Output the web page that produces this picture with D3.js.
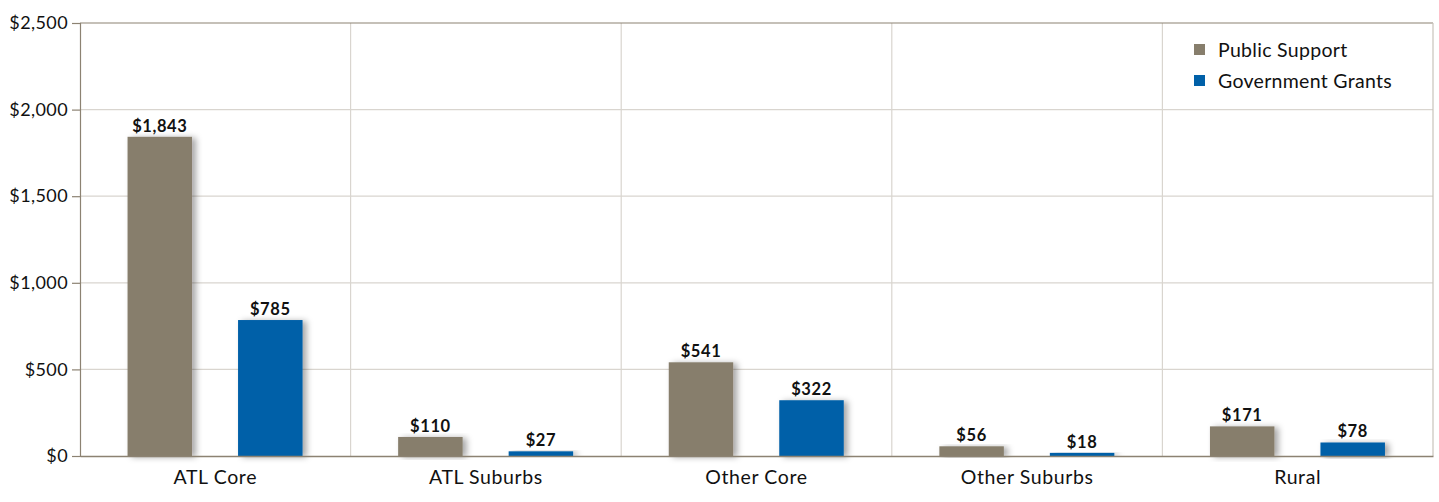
<!DOCTYPE html>
<html><head><meta charset="utf-8">
<script src="https://cdn.jsdelivr.net/npm/d3@7"></script>
<style>
html,body{margin:0;padding:0;background:#fff;}
svg{display:block;font-family:Lato,"Open Sans",sans-serif;}
</style></head>
<body><svg id="c" width="1439" height="502"></svg>
<script>
const categories = ["ATL Core","ATL Suburbs","Other Core","Other Suburbs","Rural"];
const seriesNames = ["Public Support","Government Grants"];
const publicSupport = [1843,110,541,56,171];
const governmentGrants = [785,27,322,18,78];
const yTicks = [0,500,1000,1500,2000,2500];
const colors = ["#877e6c","#0060a8"];

const svg = d3.select("#c");
const m = {l:80, r:6, t:23, b:46};
const W = 1439, H = 502;
const x = d3.scaleBand().domain(categories).range([m.l, W-m.r]);
const y = d3.scaleLinear().domain([0,2500]).range([H-m.b, m.t]);
const offs = d3.scalePoint().domain(seriesNames).range([-55.5,55]);
const bw = 64.5;

const defs = svg.append("defs");
const f = defs.append("filter").attr("id","sh").attr("x","-20%").attr("y","-20%").attr("width","160%").attr("height","140%");
f.append("feDropShadow").attr("dx",4).attr("dy",1).attr("stdDeviation",3).attr("flood-color","#000").attr("flood-opacity",0.35);

// horizontal gridlines
svg.append("g").selectAll("line").data(yTicks.slice(1,-1)).join("line")
  .attr("x1",m.l).attr("x2",W-m.r).attr("y1",d=>y(d)).attr("y2",d=>y(d))
  .attr("stroke","#d9d5cf").attr("stroke-width",1.2);
// vertical separators
svg.append("g").selectAll("line").data(categories.slice(1)).join("line")
  .attr("x1",d=>x(d)).attr("x2",d=>x(d)).attr("y1",m.t).attr("y2",H-m.b)
  .attr("stroke","#d9d5cf").attr("stroke-width",1.2);
// frame top & right
svg.append("line").attr("x1",m.l).attr("x2",W-m.r).attr("y1",m.t).attr("y2",m.t).attr("stroke","#8c8272").attr("stroke-width",1.2);
svg.append("line").attr("x1",W-m.r).attr("x2",W-m.r).attr("y1",m.t).attr("y2",H-m.b).attr("stroke","#c8c3bb").attr("stroke-width",1.2);

// bars
const data = [];
categories.forEach((c,i)=>{
  data.push({c, s:seriesNames[0], v:publicSupport[i], col:colors[0]});
  data.push({c, s:seriesNames[1], v:governmentGrants[i], col:colors[1]});
});
svg.append("g").selectAll("rect").data(data).join("rect")
  .attr("x",d=>x(d.c)+x.bandwidth()/2+offs(d.s)-bw/2)
  .attr("width",bw)
  .attr("y",d=>y(d.v)).attr("height",d=>y(0)-y(d.v))
  .attr("fill",d=>d.col).attr("filter","url(#sh)");

// value labels
svg.append("g").selectAll("text").data(data).join("text")
  .attr("x",d=>x(d.c)+x.bandwidth()/2+offs(d.s))
  .attr("y",d=>y(d.v)-5)
  .attr("text-anchor","middle").attr("font-weight","bold").attr("font-size",16.5)
  .attr("fill","#111").attr("letter-spacing","0.6")
  .text(d=>"$"+d3.format(",")(d.v));

// y axis
const ya = svg.append("g").attr("transform",`translate(${m.l},0)`)
  .call(d3.axisLeft(y).tickValues(yTicks).tickFormat(d=>"$"+d3.format(",")(d)).tickSize(8).tickPadding(4));
ya.select(".domain").attr("stroke","#8c8272").attr("stroke-width",1.2);
ya.selectAll(".tick line").attr("stroke","#8c8272").attr("stroke-width",1.2);
ya.selectAll("text").attr("font-size",18).attr("fill","#111").attr("font-family","Lato,sans-serif").attr("letter-spacing","0.4");

// x axis
const xa = svg.append("g").attr("transform",`translate(0,${H-m.b})`)
  .call(d3.axisBottom(x).tickSize(0).tickPadding(14));
xa.select(".domain").attr("stroke","#8c8272").attr("stroke-width",1.5);
xa.selectAll("text").attr("font-size",19.5).attr("fill","#111").attr("font-family","Lato,sans-serif").attr("letter-spacing","0.6");

// legend
const lg = svg.append("g").attr("transform","translate(1194,44)");
seriesNames.forEach((s,i)=>{
  const g = lg.append("g").attr("transform",`translate(0,${i*31})`);
  g.append("rect").attr("width",11).attr("height",11).attr("y",0).attr("fill",colors[i]);
  g.append("text").attr("x",24).attr("y",12.5).attr("font-size",19.5).attr("fill","#111").attr("letter-spacing","0.3").text(s);
});
</script></body></html>
